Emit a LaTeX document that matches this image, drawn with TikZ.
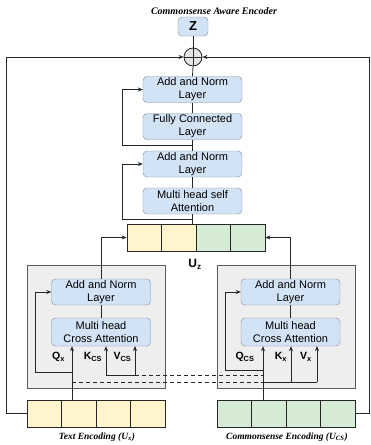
\documentclass[tikz,border=0pt]{standalone}
\usepackage{fontspec}
\setmainfont{Liberation Sans}
\newfontfamily\serifcap{Liberation Serif}
\usetikzlibrary{arrows.meta}

\definecolor{blueFill}{HTML}{D3E3F6}
\definecolor{blueLine}{HTML}{7C8A99}
\definecolor{grayFill}{HTML}{EEEEEE}
\definecolor{grayLine}{HTML}{5A5A5A}
\definecolor{yellowFill}{HTML}{FFF4CC}
\definecolor{greenFill}{HTML}{D5EBD3}

\begin{document}
\begin{tikzpicture}[x=1pt, y=-1pt,
    blockStyle/.style={rectangle, rounded corners=4pt, draw=blueLine, fill=blueFill, minimum width=99pt, minimum height=26pt, inner sep=0pt, align=center, font=\fontsize{11}{13}\selectfont},
    groupStyle/.style={rectangle, draw=grayLine, fill=grayFill, line width=0.8pt, minimum width=138pt, minimum height=123pt, inner sep=0pt},
    yellowCell/.style={rectangle, draw=black!85, fill=yellowFill, line width=0.7pt, minimum width=34.5pt, minimum height=27pt, inner sep=0pt},
    greenCell/.style={rectangle, draw=black!85, fill=greenFill, line width=0.7pt, minimum width=34.5pt, minimum height=27pt, inner sep=0pt},
    labelStyle/.style={inner sep=0pt, font=\fontsize{10.5}{12}\selectfont\bfseries},
    capStyle/.style={inner sep=0pt, font=\serifcap\fontsize{9.5}{11}\selectfont\bfseries\itshape},
    lineStyle/.style={draw=black!85, line width=0.8pt},
    arrStyle/.style={lineStyle, -{Stealth[length=5pt, width=4pt]}}]
    \useasboundingbox (0,0) rectangle (370,445);

    % encoder output
    \node[capStyle, font=\serifcap\fontsize{10}{12}\selectfont\bfseries\itshape] (title) at (214,11) {Commonsense Aware Encoder};
    \node[blockStyle, minimum width=30pt, minimum height=19pt, font=\fontsize{13}{15}\selectfont\bfseries] (z) at (193,26.5) {Z};
    \node[circle, draw=black!85, fill=black!10, line width=0.8pt, minimum size=18pt, inner sep=0pt] (sum) at (193,57) {};
    \draw[lineStyle] (sum.north) -- (sum.south) (sum.west) -- (sum.east);

    % self attention stack
    \node[blockStyle] (an_0) at (192.5,89.5) {Add and Norm\\Layer};
    \node[blockStyle] (fc)   at (192.5,126.5) {Fully Connected\\Layer};
    \node[blockStyle] (an_1) at (192.5,164) {Add and Norm\\Layer};
    \node[blockStyle] (mhsa) at (192.5,201) {Multi head self\\Attention};

    % U_z
    \node[yellowCell] (uz_0) at (144.25,237.5) {};
    \node[yellowCell] (uz_1) at (178.75,237.5) {};
    \node[greenCell]  (uz_2) at (213.25,237.5) {};
    \node[greenCell]  (uz_3) at (247.75,237.5) {};
    \node[labelStyle, font=\fontsize{12}{14}\selectfont\bfseries] (uz_lab) at (195,264) {U\textsubscript{z}};

    % cross attention blocks
    \node[groupStyle] (left_grp)  at (96,326.5) {};
    \node[groupStyle] (right_grp) at (286,326.5) {};
    \node[blockStyle] (lan) at (101,292) {Add and Norm\\Layer};
    \node[blockStyle, minimum height=28pt] (lca) at (101,332) {Multi head\\Cross Attention};
    \node[blockStyle] (ran) at (290.5,292) {Add and Norm\\Layer};
    \node[blockStyle, minimum height=28pt] (rca) at (290.5,332) {Multi head\\Cross Attention};

    \node[labelStyle] (q_x)  at (58.5,357) {Q\textsubscript{x}};
    \node[labelStyle] (k_cs) at (93,357)   {K\textsubscript{CS}};
    \node[labelStyle] (v_cs) at (122.5,357){V\textsubscript{CS}};
    \node[labelStyle] (q_cs) at (245,357)  {Q\textsubscript{CS}};
    \node[labelStyle] (k_x)  at (281,357)  {K\textsubscript{x}};
    \node[labelStyle] (v_x)  at (306,357)  {V\textsubscript{x}};

    % encodings
    \node[yellowCell] (te_0) at (44.25,413.5) {};
    \node[yellowCell] (te_1) at (78.75,413.5) {};
    \node[yellowCell] (te_2) at (113.25,413.5) {};
    \node[yellowCell] (te_3) at (147.75,413.5) {};
    \node[greenCell]  (cs_0) at (234.25,413.5) {};
    \node[greenCell]  (cs_1) at (268.75,413.5) {};
    \node[greenCell]  (cs_2) at (303.25,413.5) {};
    \node[greenCell]  (cs_3) at (337.75,413.5) {};
    \node[capStyle] (te_lab) at (97,437) {Text Encoding (U\textsubscript{x})};
    \node[capStyle] (cs_lab) at (287,437) {Commonsense Encoding (U\textsubscript{CS})};

    \coordinate (q_left)   at (72,400);
    \coordinate (q_right)  at (263,400);
    \coordinate (kv_left)  at (106,375);
    \coordinate (kv_right) at (291,382);
    \coordinate (res_0) at (192.5,145);
    \coordinate (res_1) at (192.5,219);

    % stack connections
    \draw[lineStyle] (z.south) -- (sum.north);
    \draw[lineStyle] (sum.south) -- (an_0.north);
    \draw[lineStyle] (an_0.south) -- (fc.north);
    \draw[lineStyle] (fc.south) -- (an_1.north);
    \draw[lineStyle] (an_1.south) -- (mhsa.north);
    \draw[lineStyle] (mhsa.south) -- (mhsa.south |- uz_1.north);
    \draw[arrStyle] (res_0) -- ++(-70,0) |- (an_0.west);
    \draw[arrStyle] (res_1) -- ++(-70,0) |- (an_1.west);

    % residual from the encodings
    \draw[arrStyle] (te_0.west) -- ++(-20,0) |- (sum.west);
    \draw[arrStyle] (cs_3.east) -- ++(14,0) |- (sum.east);

    % into U_z
    \draw[arrStyle] (lan.north) |- (uz_0.west);
    \draw[arrStyle] (ran.north) |- (uz_3.east);
    \draw[lineStyle] (lan.south) -- (lca.north);
    \draw[lineStyle] (ran.south) -- (rca.north);

    % left cross attention inputs
    \draw[arrStyle] (q_left) -- (q_left |- lca.south);
    \draw[arrStyle] (72,372) -- (35,372) |- (lan.west);
    \draw[arrStyle] (kv_left) -- (kv_left |- lca.south);
    \draw[arrStyle] (135,375) -- (135,346);
    \draw[lineStyle] (kv_left) -- (135,375);
    \draw[lineStyle, dashed, dash pattern=on 4pt off 3pt] (135,375) -- (263,375);

    % right cross attention inputs
    \draw[arrStyle] (q_right) -- (q_right |- rca.south);
    \draw[arrStyle] (263,370) -- (225,370) |- (ran.west);
    \draw[arrStyle] (kv_right) -- (kv_right |- rca.south);
    \draw[arrStyle] (317,382) -- (317,346);
    \draw[lineStyle] (263,382) -- (317,382);
    \draw[lineStyle, dashed, dash pattern=on 4pt off 3pt] (72,382) -- (263,382);
\end{tikzpicture}
\end{document}
